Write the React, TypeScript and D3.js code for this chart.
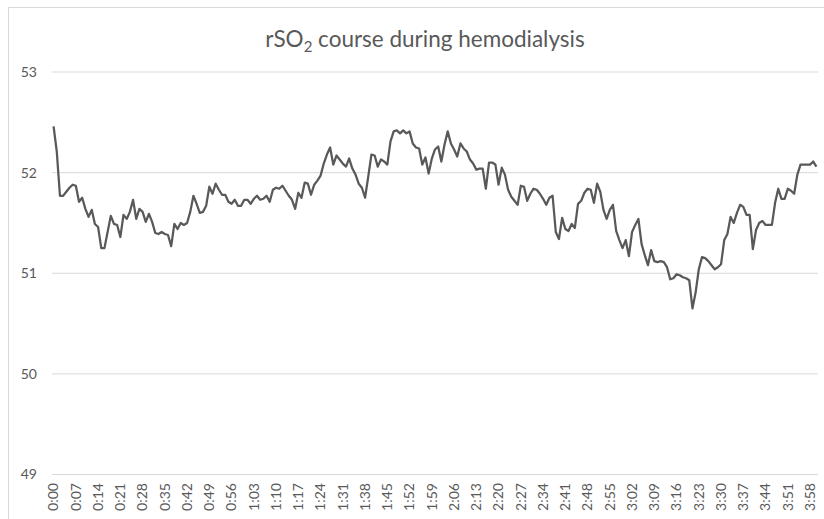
import React, { useRef, useEffect } from "react";
import * as d3 from "d3";

// rSO2 readings, one per minute from 0:00 to 4:00
const rso2 = [
  52.46, 52.21, 51.77, 51.77, 51.81, 51.85, 51.88, 51.87, 51.71, 51.75,
  51.64, 51.56, 51.63, 51.49, 51.46, 51.25, 51.25, 51.41, 51.57, 51.49,
  51.48, 51.36, 51.58, 51.54, 51.61, 51.73, 51.54, 51.64, 51.61, 51.51,
  51.59, 51.51, 51.4, 51.39, 51.41, 51.39, 51.38, 51.27, 51.49, 51.44,
  51.5, 51.48, 51.5, 51.61, 51.77, 51.69, 51.6, 51.61, 51.67, 51.86,
  51.79, 51.89, 51.83, 51.78, 51.78, 51.71, 51.69, 51.73, 51.67, 51.67,
  51.73, 51.73, 51.69, 51.74, 51.77, 51.73, 51.74, 51.77, 51.71, 51.83,
  51.85, 51.84, 51.87, 51.82, 51.77, 51.73, 51.64, 51.8, 51.75, 51.9,
  51.89, 51.78, 51.88, 51.92, 51.97, 52.09, 52.18, 52.25, 52.08, 52.17,
  52.13, 52.09, 52.06, 52.14, 52.04, 51.98, 51.89, 51.85, 51.75, 51.96,
  52.18, 52.17, 52.06, 52.13, 52.11, 52.08, 52.31, 52.41, 52.42, 52.39,
  52.42, 52.39, 52.41, 52.29, 52.25, 52.24, 52.08, 52.15, 51.99, 52.14,
  52.23, 52.26, 52.11, 52.28, 52.41, 52.29, 52.23, 52.16, 52.29, 52.24,
  52.21, 52.13, 52.09, 52.03, 52.04, 52.04, 51.84, 52.1, 52.1, 52.08,
  51.88, 52.05, 51.98, 51.83, 51.76, 51.72, 51.68, 51.87, 51.86, 51.72,
  51.79, 51.84, 51.83, 51.79, 51.74, 51.68, 51.75, 51.77, 51.41, 51.34,
  51.55, 51.44, 51.42, 51.49, 51.45, 51.69, 51.72, 51.8, 51.84, 51.83,
  51.7, 51.89, 51.81, 51.63, 51.54, 51.63, 51.68, 51.42, 51.33, 51.25,
  51.33, 51.17, 51.41, 51.48, 51.54, 51.29, 51.18, 51.08, 51.23, 51.12,
  51.11, 51.12, 51.11, 51.06, 50.94, 50.95, 50.99, 50.98, 50.96, 50.95,
  50.93, 50.65, 50.81, 51.04, 51.16, 51.15, 51.12, 51.08, 51.04, 51.06,
  51.09, 51.33, 51.39, 51.56, 51.5, 51.6, 51.68, 51.66, 51.58, 51.58,
  51.24, 51.43, 51.5, 51.52, 51.48, 51.48, 51.48, 51.7, 51.84, 51.74,
  51.74, 51.84, 51.82, 51.79, 51.98, 52.08, 52.08, 52.08, 52.08, 52.11,
  52.06,
];

// x labels shown on the axis (every 7th minute)
const tickLabels = [
  "0:00", "0:07", "0:14", "0:21", "0:28", "0:35", "0:42", "0:49", "0:56",
  "1:03", "1:10", "1:17", "1:24", "1:31", "1:38", "1:45", "1:52", "1:59",
  "2:06", "2:13", "2:20", "2:27", "2:34", "2:41", "2:48", "2:55", "3:02",
  "3:09", "3:16", "3:23", "3:30", "3:37", "3:44", "3:51", "3:58",
];
const tickStep = 7;

const yTicks = [49, 50, 51, 52, 53];

const W = 824;
const H = 519;
const font = "Lato, 'Open Sans', sans-serif";
const grey = "#595959";

const App: React.FC = () => {
  const ref = useRef<SVGSVGElement | null>(null);

  useEffect(() => {
    const svg = d3.select(ref.current);
    svg.selectAll("*").remove();

    const left = 52;
    const right = 818;
    const top = 72;
    const bottom = 474.5;

    const x = d3
      .scaleBand<number>()
      .domain(d3.range(rso2.length))
      .range([left, right]);
    const cx = (i: number) => (x(i) as number) + x.bandwidth() / 2;

    const y = d3.scaleLinear().domain([49, 53]).range([bottom, top]);

    // chart frame
    svg
      .append("rect")
      .attr("x", 8.5)
      .attr("y", 7.5)
      .attr("width", W + 20)
      .attr("height", H + 20)
      .attr("fill", "#fff")
      .attr("stroke", "#d9d9d9");

    // gridlines
    svg
      .append("g")
      .selectAll("line")
      .data(yTicks)
      .join("line")
      .attr("x1", left)
      .attr("x2", right)
      .attr("y1", (d) => y(d))
      .attr("y2", (d) => y(d))
      .attr("stroke", "#d9d9d9")
      .attr("stroke-width", 1);

    // y labels
    svg
      .append("g")
      .selectAll("text")
      .data(yTicks)
      .join("text")
      .attr("x", 37)
      .attr("y", (d) => y(d))
      .attr("dy", "0.35em")
      .attr("text-anchor", "end")
      .attr("font-family", font)
      .attr("font-size", 14)
      .attr("fill", grey)
      .text((d) => d);

    // x labels, rotated
    svg
      .append("g")
      .selectAll("text")
      .data(tickLabels)
      .join("text")
      .attr("transform", (_, i) => `translate(${cx(i * tickStep)},483) rotate(-90)`)
      .attr("dy", "0.35em")
      .attr("text-anchor", "end")
      .attr("font-family", font)
      .attr("font-size", 14)
      .attr("fill", grey)
      .text((d) => d);

    // title
    const title = svg
      .append("text")
      .attr("x", 425)
      .attr("y", 47)
      .attr("text-anchor", "middle")
      .attr("font-family", font)
      .attr("font-size", 22.5)
      .attr("fill", grey);
    title.append("tspan").text("rSO");
    title.append("tspan").attr("font-size", 15).attr("dy", 5).text("2");
    title.append("tspan").attr("dy", -5).text(" course during hemodialysis");

    // rSO2 line
    const line = d3
      .line<number>()
      .x((_, i) => cx(i))
      .y((d) => y(d));

    svg
      .append("path")
      .datum(rso2)
      .attr("fill", "none")
      .attr("stroke", grey)
      .attr("stroke-width", 2.25)
      .attr("stroke-linejoin", "round")
      .attr("d", line);
  }, []);

  return (
    <svg
      ref={ref}
      width={W}
      height={H}
      style={{ position: "absolute", left: 0, top: 0, display: "block" }}
    />
  );
};

export default App;
